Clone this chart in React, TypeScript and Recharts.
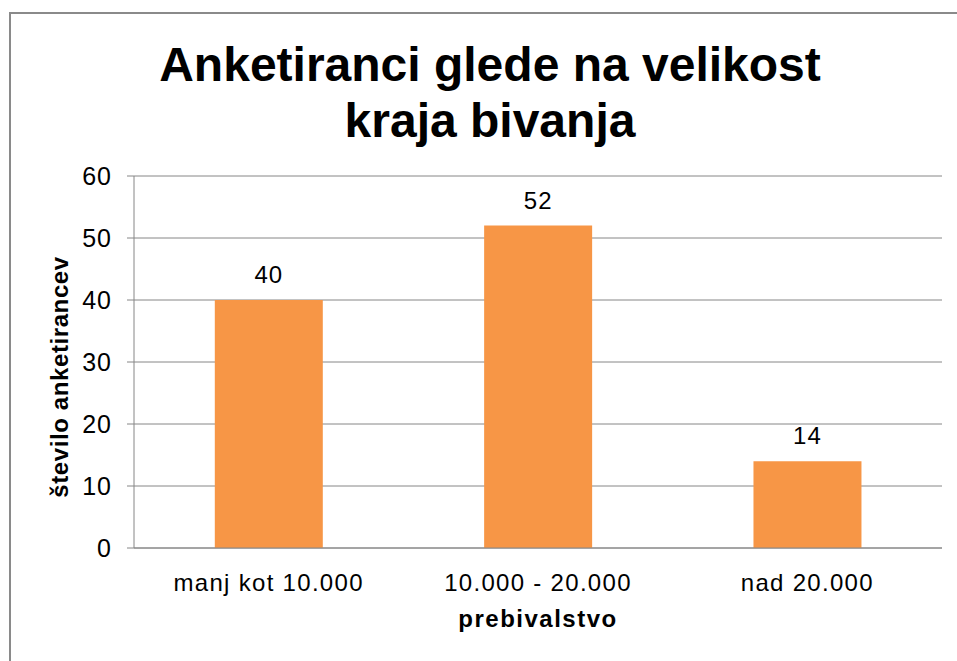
import React from 'react';
import { BarChart, Bar, XAxis, YAxis, CartesianGrid, LabelList } from 'recharts';

const categories = ['manj kot 10.000', '10.000 - 20.000', 'nad 20.000'];
const respondents = [40, 52, 14];
const yTicks = [0, 10, 20, 30, 40, 50, 60];
const edgeTicks = [0, 1, 2, 3];

const titleLines = ['Anketiranci glede na velikost', 'kraja bivanja'];
const xTitle = 'prebivalstvo';
const yTitle = 'število anketirancev';

const data = categories.map((name, i) => ({ name, value: respondents[i] }));

const FONT = '"Liberation Sans", Arial, Helvetica, sans-serif';
const GRAY = '#868686';

export default function App() {
  return (
    <div
      style={{
        position: 'absolute',
        left: 0,
        top: 0,
        width: 957,
        height: 661,
        overflow: 'hidden',
        background: '#fff',
        fontFamily: FONT,
      }}
    >
      {/* chart frame, runs off the right and bottom edge */}
      <div
        style={{
          position: 'absolute',
          left: 9,
          top: 12,
          width: 980,
          height: 700,
          border: '2px solid #8a8a8a',
          boxSizing: 'border-box',
        }}
      />
      <div
        style={{
          position: 'absolute',
          left: 90,
          top: 37,
          width: 800,
          textAlign: 'center',
          fontSize: 48,
          fontWeight: 'bold',
          lineHeight: '56px',
          color: '#000',
        }}
      >
        {titleLines.map((t) => (
          <div key={t}>{t}</div>
        ))}
      </div>
      <div
        style={{
          position: 'absolute',
          left: 60,
          top: 377,
          transform: 'translate(-50%, -50%) rotate(-90deg)',
          whiteSpace: 'nowrap',
          fontSize: 24,
          fontWeight: 'bold',
          letterSpacing: 0.6,
          color: '#000',
        }}
      >
        {yTitle}
      </div>
      <div style={{ position: 'absolute', left: 0, top: 0 }}>
        <BarChart
          width={957}
          height={661}
          data={data}
          margin={{ top: 176, right: 15, bottom: 28, left: 34 }}
          barCategoryGap="30%"
        >
          <CartesianGrid vertical={false} stroke={GRAY} strokeWidth={1} />
          <XAxis
            dataKey="name"
            height={85}
            tickSize={7}
            tickMargin={19}
            tickLine={false}
            axisLine={{ stroke: GRAY }}
            tick={{ fill: '#000', fontSize: 24, fontFamily: FONT, letterSpacing: 1.3 }}
            label={{
              value: xTitle,
              position: 'insideBottom',
              offset: 6,
              fill: '#000',
              fontSize: 24,
              fontWeight: 'bold',
              fontFamily: FONT,
              letterSpacing: 1.5,
            }}
          />
          <XAxis
            xAxisId="edge"
            type="number"
            domain={[0, 3]}
            ticks={edgeTicks}
            allowDataOverflow
            height={0}
            tickSize={7}
            axisLine={false}
            tickLine={{ stroke: GRAY }}
            tickFormatter={() => ''}
          />
          <YAxis
            width={100}
            domain={[0, 60]}
            ticks={yTicks}
            tickSize={7}
            tickMargin={15}
            axisLine={{ stroke: GRAY }}
            tickLine={{ stroke: GRAY }}
            tick={{ fill: '#000', fontSize: 25, fontFamily: FONT, letterSpacing: 1 }}
          />
          <Bar dataKey="value" fill="#F79646" isAnimationActive={false}>
            <LabelList
              dataKey="value"
              position="top"
              offset={17}
              fill="#000"
              fontSize={24}
              fontFamily={FONT}
              letterSpacing={1}
            />
          </Bar>
        </BarChart>
      </div>
    </div>
  );
}
